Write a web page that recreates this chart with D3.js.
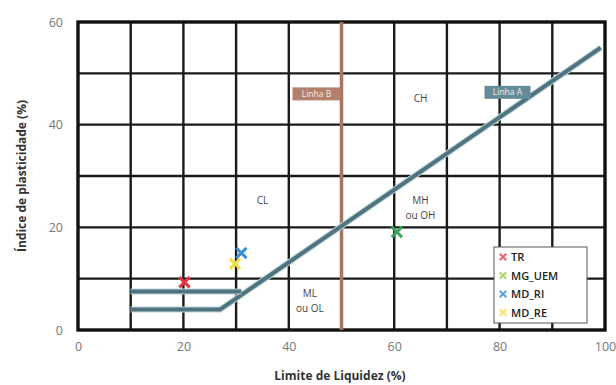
<!DOCTYPE html>
<html>
<head>
<meta charset="utf-8">
<script src="https://cdn.jsdelivr.net/npm/d3@7"></script>
<style>
  html, body { margin: 0; padding: 0; background: #fff; }
  svg { display: block; }
</style>
</head>
<body>
<svg id="chart" width="616" height="385"></svg>
<script>
// Casagrande plasticity chart: liquid limit vs plasticity index
const xTicks = [0, 20, 40, 60, 80, 100];
const yTicks = [0, 20, 40, 60];
const xGrid = [10, 20, 30, 40, 50, 60, 70, 80, 90];
const yGrid = [10, 20, 30, 40, 50];

// Line A (with its low-plasticity offset) and the CL-ML band boundary
const lineA = [[10, 4], [27, 4], [99.2, 55]];
const bandTop = [[10, 7.5], [31, 7.5]];
// Line B at LL = 50
const lineB = [[50, 0], [50, 60]];

// Samples
const sampleNames = ["TR", "MG_UEM", "MD_RI", "MD_RE"];
const sampleLL = [20.2, 60.5, 31, 29.8];
const samplePI = [9.3, 19.1, 15, 12.9];
const sampleColors = ["#e8333f", "#3aa65c", "#3b8fd3", "#f3df45"];
const legendColors = ["#f0606a", "#a8d86a", "#5ea0e0", "#f6e56a"];

// Region labels
const zoneLines = [["CL"], ["CH"], ["MH", "ou OH"], ["ML", "ou OL"]];
const zoneLL = [35, 65, 65, 44];
const zonePI = [24.5, 44.5, 24.5, 6.5];

const svg = d3.select("#chart");
const m = { left: 78, right: 11, top: 22, bottom: 55 };
const W = 616, H = 385;

const x = d3.scaleLinear().domain([0, 100]).range([m.left, W - m.right]);
const y = d3.scaleLinear().domain([0, 60]).range([H - m.bottom, m.top]);

// grid
const g = svg.append("g");
g.selectAll(".vg").data(xGrid).join("line")
  .attr("x1", d => x(d)).attr("x2", d => x(d))
  .attr("y1", y(0)).attr("y2", y(60))
  .attr("stroke", "#1a1a1a").attr("stroke-width", 2.4);
g.selectAll(".hg").data(yGrid).join("line")
  .attr("y1", d => y(d)).attr("y2", d => y(d))
  .attr("x1", x(0)).attr("x2", x(100))
  .attr("stroke", "#1a1a1a").attr("stroke-width", 2.4);

// frame
svg.append("rect")
  .attr("x", x(0)).attr("y", y(60))
  .attr("width", x(100) - x(0)).attr("height", y(0) - y(60))
  .attr("fill", "none").attr("stroke", "#111").attr("stroke-width", 3.4);

// axes
const xAxis = svg.append("g")
  .attr("transform", `translate(0,${y(0)})`)
  .call(d3.axisBottom(x).tickValues(xTicks).tickSize(0).tickPadding(12));
const yAxis = svg.append("g")
  .attr("transform", `translate(${x(0)},0)`)
  .call(d3.axisLeft(y).tickValues(yTicks).tickSize(0).tickPadding(15));
[xAxis, yAxis].forEach(a => {
  a.select(".domain").remove();
  a.selectAll("text")
    .attr("font-family", "Open Sans, sans-serif")
    .attr("font-size", 12.5).attr("fill", "#777");
});

// axis titles
svg.append("text")
  .attr("x", 340).attr("y", 380)
  .attr("text-anchor", "middle")
  .attr("font-family", "Open Sans, sans-serif")
  .attr("font-size", 12).attr("font-weight", "bold").attr("fill", "#333")
  .text("Limite de Liquidez (%)");
svg.append("text")
  .attr("transform", `translate(26,${(y(0) + y(60)) / 2}) rotate(-90)`)
  .attr("text-anchor", "middle")
  .attr("font-family", "Open Sans, sans-serif")
  .attr("font-size", 12).attr("font-weight", "bold").attr("fill", "#333")
  .text("Índice de plasticidade (%)");

const line = d3.line().x(d => x(d[0])).y(d => y(d[1]));

// Line B
svg.append("path").attr("d", line(lineB))
  .attr("stroke", "#a8735f").attr("stroke-width", 3.5).attr("fill", "none");

// Line A and band
[lineA, bandTop].forEach(pts => {
  svg.append("path").attr("d", line(pts))
    .attr("stroke", "#b9d6df").attr("stroke-width", 6).attr("fill", "none")
    .attr("stroke-linejoin", "round");
  svg.append("path").attr("d", line(pts))
    .attr("stroke", "#50737d").attr("stroke-width", 4).attr("fill", "none")
    .attr("stroke-linejoin", "round");
});

// line tags
function tag(cx, cy, w, text, fill) {
  svg.append("rect").attr("x", cx - w / 2).attr("y", cy - 6.5)
    .attr("width", w).attr("height", 13).attr("fill", fill);
  svg.append("text").attr("x", cx).attr("y", cy + 3)
    .attr("text-anchor", "middle")
    .attr("font-family", "Open Sans, sans-serif").attr("font-size", 8.5)
    .attr("fill", "#f3eee8").text(text);
}
tag(x(50) - 25, y(46), 48, "Linha B", "#b2806b");
tag(x(81.5), y(46.3), 46, "Linha A", "#648c99");

// zone labels
zoneLines.forEach((lines, i) => {
  const t = svg.append("text")
    .attr("x", x(zoneLL[i])).attr("y", y(zonePI[i]))
    .attr("text-anchor", "middle")
    .attr("font-family", "Open Sans, sans-serif").attr("font-size", 10)
    .attr("fill", "#444");
  lines.forEach((s, k) => t.append("tspan")
    .attr("x", x(zoneLL[i])).attr("dy", k === 0 ? 0 : 15).text(s));
});

// sample markers
const cross = d3.symbol().type(d3.symbolTimes).size(70);
sampleNames.forEach((n, i) => {
  svg.append("path").attr("d", cross())
    .attr("transform", `translate(${x(sampleLL[i])},${y(samplePI[i])})`)
    .attr("stroke", sampleColors[i]).attr("stroke-width", 3).attr("fill", "none");
});

// legend
const lg = svg.append("g").attr("transform", "translate(494,247)");
lg.append("rect").attr("width", 93).attr("height", 76)
  .attr("fill", "#fff").attr("stroke", "#555").attr("stroke-width", 1);
sampleNames.forEach((n, i) => {
  const yy = 10 + i * 18.5;
  lg.append("path").attr("d", d3.symbol().type(d3.symbolTimes).size(30)())
    .attr("transform", `translate(9,${yy})`)
    .attr("stroke", legendColors[i]).attr("stroke-width", 2).attr("fill", "none");
  lg.append("text").attr("x", 17).attr("y", yy + 4)
    .attr("font-family", "Open Sans, sans-serif").attr("font-size", 11)
    .attr("font-weight", "600").attr("fill", "#222").text(n);
});
</script>
</body>
</html>
